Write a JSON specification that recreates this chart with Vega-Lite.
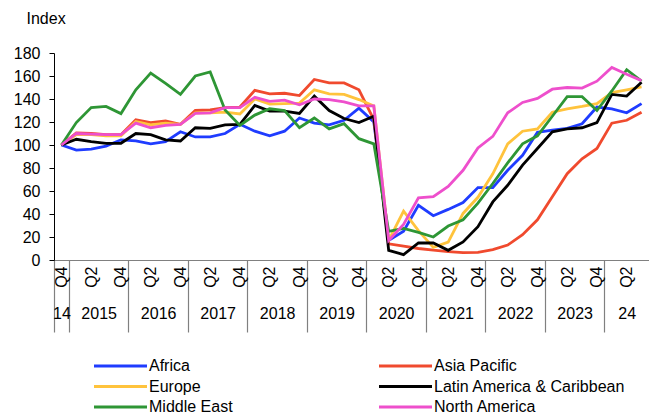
{
  "$schema": "https://vega.github.io/schema/vega-lite/v6.json",
  "width": 595,
  "height": 207,
  "autosize": {"type": "none"},
  "padding": {"left": 54, "top": 53, "right": 0, "bottom": 156},
  "config": {
    "view": {"stroke": null},
    "font": "Liberation Sans",
    "axis": {"labelFont": "Liberation Sans", "titleFont": "Liberation Sans", "labelColor": "#000000", "titleColor": "#000000"},
    "legend": {"labelFont": "Liberation Sans", "labelColor": "#000000"}
  },
  "datasets": {
    "series": [
      {"t":0,"region":"Africa","value":100},{"t":1,"region":"Africa","value":95.5},{"t":2,"region":"Africa","value":96.5},{"t":3,"region":"Africa","value":99},{"t":4,"region":"Africa","value":104.5},{"t":5,"region":"Africa","value":103.5},{"t":6,"region":"Africa","value":101},{"t":7,"region":"Africa","value":103},{"t":8,"region":"Africa","value":111.5},{"t":9,"region":"Africa","value":107},
      {"t":10,"region":"Africa","value":107},{"t":11,"region":"Africa","value":110},{"t":12,"region":"Africa","value":118},{"t":13,"region":"Africa","value":112},{"t":14,"region":"Africa","value":108},{"t":15,"region":"Africa","value":112},{"t":16,"region":"Africa","value":123.5},{"t":17,"region":"Africa","value":119},{"t":18,"region":"Africa","value":117.5},{"t":19,"region":"Africa","value":121.5},
      {"t":20,"region":"Africa","value":132},{"t":21,"region":"Africa","value":120},{"t":22,"region":"Africa","value":17},{"t":23,"region":"Africa","value":25},{"t":24,"region":"Africa","value":47.5},{"t":25,"region":"Africa","value":38.5},{"t":26,"region":"Africa","value":44},{"t":27,"region":"Africa","value":50},{"t":28,"region":"Africa","value":63},{"t":29,"region":"Africa","value":63},
      {"t":30,"region":"Africa","value":78},{"t":31,"region":"Africa","value":91},{"t":32,"region":"Africa","value":111},{"t":33,"region":"Africa","value":113},{"t":34,"region":"Africa","value":114.5},{"t":35,"region":"Africa","value":118.5},{"t":36,"region":"Africa","value":133},{"t":37,"region":"Africa","value":131.5},{"t":38,"region":"Africa","value":128},{"t":39,"region":"Africa","value":136},

      {"t":0,"region":"Asia Pacific","value":100},{"t":1,"region":"Asia Pacific","value":110.5},{"t":2,"region":"Asia Pacific","value":110},{"t":3,"region":"Asia Pacific","value":109},{"t":4,"region":"Asia Pacific","value":109},{"t":5,"region":"Asia Pacific","value":122},{"t":6,"region":"Asia Pacific","value":119.5},{"t":7,"region":"Asia Pacific","value":121},{"t":8,"region":"Asia Pacific","value":118},{"t":9,"region":"Asia Pacific","value":130},
      {"t":10,"region":"Asia Pacific","value":130.5},{"t":11,"region":"Asia Pacific","value":132.5},{"t":12,"region":"Asia Pacific","value":133},{"t":13,"region":"Asia Pacific","value":147.5},{"t":14,"region":"Asia Pacific","value":144.5},{"t":15,"region":"Asia Pacific","value":145},{"t":16,"region":"Asia Pacific","value":143},{"t":17,"region":"Asia Pacific","value":157},{"t":18,"region":"Asia Pacific","value":154},{"t":19,"region":"Asia Pacific","value":154},
      {"t":20,"region":"Asia Pacific","value":148},{"t":21,"region":"Asia Pacific","value":122},{"t":22,"region":"Asia Pacific","value":14},{"t":23,"region":"Asia Pacific","value":12},{"t":24,"region":"Asia Pacific","value":10},{"t":25,"region":"Asia Pacific","value":8.5},{"t":26,"region":"Asia Pacific","value":7.3},{"t":27,"region":"Asia Pacific","value":6.5},{"t":28,"region":"Asia Pacific","value":6.7},{"t":29,"region":"Asia Pacific","value":9},
      {"t":30,"region":"Asia Pacific","value":13},{"t":31,"region":"Asia Pacific","value":22},{"t":32,"region":"Asia Pacific","value":35},{"t":33,"region":"Asia Pacific","value":55},{"t":34,"region":"Asia Pacific","value":75},{"t":35,"region":"Asia Pacific","value":88},{"t":36,"region":"Asia Pacific","value":97},{"t":37,"region":"Asia Pacific","value":119},{"t":38,"region":"Asia Pacific","value":121.5},{"t":39,"region":"Asia Pacific","value":128.5},

      {"t":0,"region":"Europe","value":100},{"t":1,"region":"Europe","value":109},{"t":2,"region":"Europe","value":109},{"t":3,"region":"Europe","value":108},{"t":4,"region":"Europe","value":108},{"t":5,"region":"Europe","value":120.5},{"t":6,"region":"Europe","value":117.5},{"t":7,"region":"Europe","value":119},{"t":8,"region":"Europe","value":118},{"t":9,"region":"Europe","value":128},
      {"t":10,"region":"Europe","value":128},{"t":11,"region":"Europe","value":128.5},{"t":12,"region":"Europe","value":127},{"t":13,"region":"Europe","value":140},{"t":14,"region":"Europe","value":135.5},{"t":15,"region":"Europe","value":136},{"t":16,"region":"Europe","value":136.5},{"t":17,"region":"Europe","value":148},{"t":18,"region":"Europe","value":144.5},{"t":19,"region":"Europe","value":144},
      {"t":20,"region":"Europe","value":139.5},{"t":21,"region":"Europe","value":134},{"t":22,"region":"Europe","value":17},{"t":23,"region":"Europe","value":42.5},{"t":24,"region":"Europe","value":25.5},{"t":25,"region":"Europe","value":11},{"t":26,"region":"Europe","value":15.5},{"t":27,"region":"Europe","value":40.5},{"t":28,"region":"Europe","value":54.5},{"t":29,"region":"Europe","value":75},
      {"t":30,"region":"Europe","value":101},{"t":31,"region":"Europe","value":112},{"t":32,"region":"Europe","value":114},{"t":33,"region":"Europe","value":128.5},{"t":34,"region":"Europe","value":131.5},{"t":35,"region":"Europe","value":133.5},{"t":36,"region":"Europe","value":136},{"t":37,"region":"Europe","value":145.5},{"t":38,"region":"Europe","value":148},{"t":39,"region":"Europe","value":150.5},

      {"t":0,"region":"Latin America & Caribbean","value":100},{"t":1,"region":"Latin America & Caribbean","value":105},{"t":2,"region":"Latin America & Caribbean","value":103},{"t":3,"region":"Latin America & Caribbean","value":101.5},{"t":4,"region":"Latin America & Caribbean","value":101.5},{"t":5,"region":"Latin America & Caribbean","value":110},{"t":6,"region":"Latin America & Caribbean","value":109},{"t":7,"region":"Latin America & Caribbean","value":104.5},{"t":8,"region":"Latin America & Caribbean","value":103.5},{"t":9,"region":"Latin America & Caribbean","value":115},
      {"t":10,"region":"Latin America & Caribbean","value":114.5},{"t":11,"region":"Latin America & Caribbean","value":117.5},{"t":12,"region":"Latin America & Caribbean","value":118},{"t":13,"region":"Latin America & Caribbean","value":134.5},{"t":14,"region":"Latin America & Caribbean","value":129.5},{"t":15,"region":"Latin America & Caribbean","value":129.5},{"t":16,"region":"Latin America & Caribbean","value":127.5},{"t":17,"region":"Latin America & Caribbean","value":142.5},{"t":18,"region":"Latin America & Caribbean","value":130},{"t":19,"region":"Latin America & Caribbean","value":123},
      {"t":20,"region":"Latin America & Caribbean","value":119.5},{"t":21,"region":"Latin America & Caribbean","value":125},{"t":22,"region":"Latin America & Caribbean","value":8.4},{"t":23,"region":"Latin America & Caribbean","value":4.7},{"t":24,"region":"Latin America & Caribbean","value":14.8},{"t":25,"region":"Latin America & Caribbean","value":14.8},{"t":26,"region":"Latin America & Caribbean","value":8.4},{"t":27,"region":"Latin America & Caribbean","value":15.7},{"t":28,"region":"Latin America & Caribbean","value":29},{"t":29,"region":"Latin America & Caribbean","value":50.5},
      {"t":30,"region":"Latin America & Caribbean","value":65},{"t":31,"region":"Latin America & Caribbean","value":82.5},{"t":32,"region":"Latin America & Caribbean","value":97},{"t":33,"region":"Latin America & Caribbean","value":111.5},{"t":34,"region":"Latin America & Caribbean","value":114},{"t":35,"region":"Latin America & Caribbean","value":115},{"t":36,"region":"Latin America & Caribbean","value":119.5},{"t":37,"region":"Latin America & Caribbean","value":144},{"t":38,"region":"Latin America & Caribbean","value":142.5},{"t":39,"region":"Latin America & Caribbean","value":154.5},

      {"t":0,"region":"Middle East","value":100},{"t":1,"region":"Middle East","value":119.5},{"t":2,"region":"Middle East","value":132.5},{"t":3,"region":"Middle East","value":133.5},{"t":4,"region":"Middle East","value":127.3},{"t":5,"region":"Middle East","value":148},{"t":6,"region":"Middle East","value":162.5},{"t":7,"region":"Middle East","value":153.5},{"t":8,"region":"Middle East","value":144},{"t":9,"region":"Middle East","value":160},
      {"t":10,"region":"Middle East","value":163.5},{"t":11,"region":"Middle East","value":130.5},{"t":12,"region":"Middle East","value":117},{"t":13,"region":"Middle East","value":126},{"t":14,"region":"Middle East","value":131.5},{"t":15,"region":"Middle East","value":130},{"t":16,"region":"Middle East","value":115},{"t":17,"region":"Middle East","value":123.5},{"t":18,"region":"Middle East","value":114},{"t":19,"region":"Middle East","value":118.5},
      {"t":20,"region":"Middle East","value":105.5},{"t":21,"region":"Middle East","value":101},{"t":22,"region":"Middle East","value":25},{"t":23,"region":"Middle East","value":27.5},{"t":24,"region":"Middle East","value":24},{"t":25,"region":"Middle East","value":20},{"t":26,"region":"Middle East","value":29.5},{"t":27,"region":"Middle East","value":35},{"t":28,"region":"Middle East","value":49.5},{"t":29,"region":"Middle East","value":66.5},
      {"t":30,"region":"Middle East","value":84.5},{"t":31,"region":"Middle East","value":101},{"t":32,"region":"Middle East","value":108},{"t":33,"region":"Middle East","value":125},{"t":34,"region":"Middle East","value":142},{"t":35,"region":"Middle East","value":142},{"t":36,"region":"Middle East","value":130},{"t":37,"region":"Middle East","value":147},{"t":38,"region":"Middle East","value":165.5},{"t":39,"region":"Middle East","value":155.5},

      {"t":0,"region":"North America","value":100},{"t":1,"region":"North America","value":110},{"t":2,"region":"North America","value":109.5},{"t":3,"region":"North America","value":109},{"t":4,"region":"North America","value":109},{"t":5,"region":"North America","value":119},{"t":6,"region":"North America","value":115},{"t":7,"region":"North America","value":117},{"t":8,"region":"North America","value":118},{"t":9,"region":"North America","value":127.5},
      {"t":10,"region":"North America","value":128},{"t":11,"region":"North America","value":132.5},{"t":12,"region":"North America","value":132.5},{"t":13,"region":"North America","value":141.5},{"t":14,"region":"North America","value":138},{"t":15,"region":"North America","value":139},{"t":16,"region":"North America","value":135},{"t":17,"region":"North America","value":140},{"t":18,"region":"North America","value":139.5},{"t":19,"region":"North America","value":137.5},
      {"t":20,"region":"North America","value":134},{"t":21,"region":"North America","value":134},{"t":22,"region":"North America","value":17},{"t":23,"region":"North America","value":31},{"t":24,"region":"North America","value":54},{"t":25,"region":"North America","value":55},{"t":26,"region":"North America","value":64},{"t":27,"region":"North America","value":78},{"t":28,"region":"North America","value":97.5},{"t":29,"region":"North America","value":107.5},
      {"t":30,"region":"North America","value":128},{"t":31,"region":"North America","value":137},{"t":32,"region":"North America","value":140.5},{"t":33,"region":"North America","value":148.5},{"t":34,"region":"North America","value":150},{"t":35,"region":"North America","value":149.5},{"t":36,"region":"North America","value":155.5},{"t":37,"region":"North America","value":167.5},{"t":38,"region":"North America","value":161.5},{"t":39,"region":"North America","value":156}
    ]
  },
  "data": {"name": "series"},
  "resolve": {"axis": {"x": "independent"}},
  "layer": [
    {
      "mark": {"type": "line", "strokeWidth": 2.8},
      "encoding": {
        "x": {
          "field": "t", "type": "quantitative",
          "scale": {"domain": [-0.5, 39.5], "nice": false, "zero": false},
          "axis": {
            "orient": "bottom", "title": null, "grid": false,
            "values": [-0.5, 0, 0.5, 2, 4, 4.5, 6, 8, 8.5, 10, 12, 12.5, 14, 16, 16.5, 18, 20, 20.5, 22, 24, 24.5, 26, 28, 28.5, 30, 32, 32.5, 34, 36, 36.5, 38],
            "labelExpr": "datum.value % 1 != 0 ? '' : (datum.value % 4 == 0 ? 'Q4' : 'Q2')",
            "labelAngle": 270, "labelAlign": "right", "labelBaseline": "middle",
            "labelPadding": 6, "labelFontSize": 16, "labelFlush": false, "labelOverlap": false, "labelBound": false,
            "domainColor": "#808080", "domainWidth": 1.2,
            "tickColor": "#808080", "tickWidth": 1.2,
            "tickSize": {"condition": {"test": "datum.value % 1 != 0", "value": 72}, "value": 0}
          }
        },
        "y": {
          "field": "value", "type": "quantitative",
          "scale": {"domain": [0, 180], "nice": false},
          "axis": {
            "title": "Index", "titleAngle": 0, "titleAlign": "left", "titleBaseline": "alphabetic",
            "titleX": -28, "titleY": -30, "titleFontWeight": "normal", "titleFontSize": 16,
            "values": [0, 20, 40, 60, 80, 100, 120, 140, 160, 180],
            "grid": false, "tickSize": 5, "tickColor": "#000000", "domainColor": "#000000",
            "labelPadding": 9, "labelFontSize": 16, "labelOverlap": false, "labelFlush": false, "labelBound": false
          }
        },
        "color": {
          "field": "region", "type": "nominal",
          "scale": {
            "domain": ["Africa", "Asia Pacific", "Europe", "Latin America & Caribbean", "Middle East", "North America"],
            "range": ["#1f3cff", "#f04a2e", "#ffc33c", "#000000", "#2e9635", "#ee4fcc"]
          },
          "legend": {
            "title": null, "orient": "none", "direction": "horizontal", "legendX": 58.5, "legendY": 305, "padding": 0,
            "columns": 2, "columnPadding": 139, "rowPadding": 4.5,
            "symbolType": "M-5.3,0H5.3", "symbolSize": 100, "symbolStrokeWidth": 3,
            "labelFontSize": 16, "labelOffset": 20.5, "labelLimit": 400
          }
        }
      }
    },
    {
      "mark": {"type": "rule", "opacity": 0},
      "encoding": {
        "x": {
          "field": "t", "type": "quantitative",
          "axis": {
            "orient": "bottom", "title": null, "grid": false,
            "values": [0, 2.5, 6.5, 10.5, 14.5, 18.5, 22.5, 26.5, 30.5, 34.5, 38],
            "labelExpr": "datum.value == 0 ? '14' : (datum.value == 38 ? '24' : '' + (2015 + (datum.value - 2.5) / 4))",
            "ticks": false, "domain": false, "labelAngle": 0, "labelAlign": "center",
            "labelPadding": 45, "labelFontSize": 16, "labelFlush": false, "labelOverlap": false, "labelBound": false
          }
        }
      }
    }
  ]
}
